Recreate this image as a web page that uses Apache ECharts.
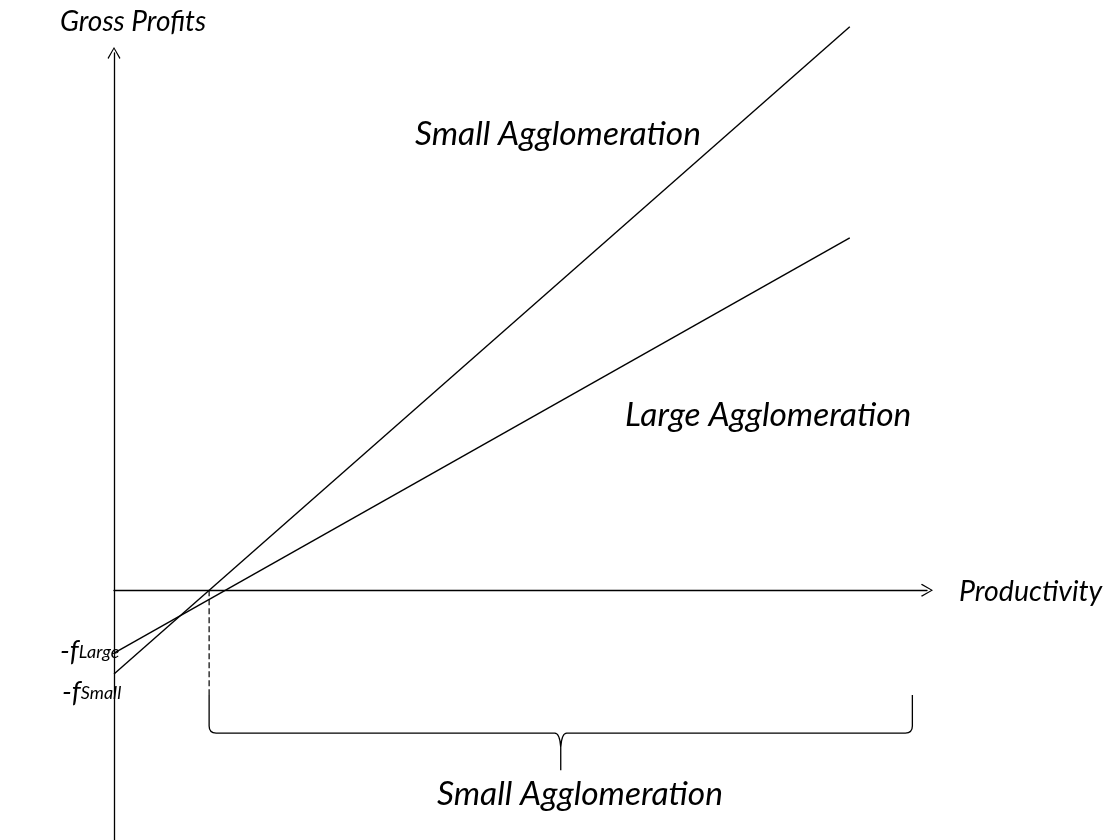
<!DOCTYPE html>
<html>
<head>
<meta charset="utf-8">
<title>Gross Profits vs Productivity</title>
<script src="https://cdn.jsdelivr.net/npm/echarts@6/dist/echarts.min.js"></script>
<style>
    html, body {margin: 0; padding: 0; background: #fff;}
    #chart {width: 1109px; height: 840px;}
</style>
</head>
<body>
<div id="chart"></div>
<script>
// productivity (x) and gross profit (y) end points of each profit line
const smallLine = [[0, -1.56], [9.05, 10.49]];
const largeLine = [[0, -1.17], [9.05, 6.56]];
// productivity threshold of the small agglomeration, drawn down to the brace
const cutoffLine = [[1.17, 0], [1.17, -1.95]];
// brace: from x, to x, top y, bar y, tip y
const brace = [[1.17, 9.82, -1.95, -2.66, -3.35]];

const FONT = 'Lato';
const black = '#000';

// open arrow head, drawn as a thin filled chevron
const arrow = 'path://M0,0 L7,12 L6,13 L0,2.2 L-6,13 L-7,12 Z';

const myChart = echarts.init(document.getElementById('chart'));

function braceItem(params, api) {
    const p0 = api.coord([api.value(0), api.value(2)]);
    const p1 = api.coord([api.value(1), api.value(2)]);
    const yBar = api.coord([api.value(0), api.value(3)])[1];
    const yTip = api.coord([api.value(0), api.value(4)])[1];
    const xm = (p0[0] + p1[0]) / 2;
    const r = 7;
    const d = [
        'M', p0[0], p0[1],
        'L', p0[0], yBar - r,
        'Q', p0[0], yBar, p0[0] + r, yBar,
        'L', xm - 6, yBar,
        'Q', xm - 1, yBar, xm, yBar + 14,
        'L', xm, yTip,
        'M', xm, yBar + 14,
        'Q', xm + 1, yBar, xm + 6, yBar,
        'L', p1[0] - r, yBar,
        'Q', p1[0], yBar, p1[0], yBar - r,
        'L', p1[0], p1[1]
    ].join(' ');
    return {
        type: 'path',
        shape: {pathData: d},
        style: {fill: 'none', stroke: black, lineWidth: 1.3}
    };
}

myChart.setOption({
    animation: false,
    backgroundColor: '#fff',
    grid: {left: 114, top: 53, right: 182, bottom: 0, containLabel: false},
    xAxis: {
        type: 'value',
        min: 0,
        max: 10,
        axisLine: {
            show: true,
            onZero: true,
            symbol: ['none', arrow],
            symbolSize: [14, 12],
            lineStyle: {color: black, width: 1.3}
        },
        axisTick: {show: false},
        axisLabel: {show: false},
        splitLine: {show: false}
    },
    yAxis: {
        type: 'value',
        min: -4.65,
        max: 10,
        axisLine: {
            show: true,
            onZero: true,
            symbol: ['none', arrow],
            symbolSize: [14, 12],
            lineStyle: {color: black, width: 1.3}
        },
        axisTick: {show: false},
        axisLabel: {show: false},
        splitLine: {show: false}
    },
    series: [
        {
            name: 'Small Agglomeration',
            type: 'line',
            data: smallLine,
            clip: false,
            symbol: 'none',
            lineStyle: {color: black, width: 1.4}
        },
        {
            name: 'Large Agglomeration',
            type: 'line',
            data: largeLine,
            clip: false,
            symbol: 'none',
            lineStyle: {color: black, width: 1.4}
        },
        {
            name: 'cutoff',
            type: 'line',
            data: cutoffLine,
            clip: false,
            symbol: 'none',
            lineStyle: {color: black, width: 1.2, type: [6, 3]}
        },
        {
            name: 'brace',
            type: 'custom',
            clip: false,
            renderItem: braceItem,
            data: brace
        }
    ],
    graphic: [
        {type: 'text', left: 60, top: 8, style: {text: 'Gross Profits', font: 'italic 28px ' + FONT, fill: black}},
        {type: 'text', left: 415, top: 117, style: {text: 'Small Agglomeration', font: 'italic 33.5px ' + FONT, fill: black}},
        {type: 'text', left: 625, top: 398, style: {text: 'Large Agglomeration', font: 'italic 33.5px ' + FONT, fill: black}},
        {type: 'text', left: 959, top: 577, style: {text: 'Productivity', font: 'italic 28.5px ' + FONT, fill: black}},
        {type: 'text', left: 437, top: 777, style: {text: 'Small Agglomeration', font: 'italic 33.5px ' + FONT, fill: black}},
        {
            type: 'text', left: 60, top: 638,
            style: {
                text: '{a|-f}{b|Large}',
                rich: {
                    a: {font: 'italic 28px ' + FONT, fill: black},
                    b: {font: 'italic 18px ' + FONT, fill: black}
                }
            }
        },
        {
            type: 'text', left: 62, top: 679,
            style: {
                text: '{a|-f}{b|Small}',
                rich: {
                    a: {font: 'italic 28px ' + FONT, fill: black},
                    b: {font: 'italic 18px ' + FONT, fill: black}
                }
            }
        }
    ]
});
</script>
</body>
</html>
